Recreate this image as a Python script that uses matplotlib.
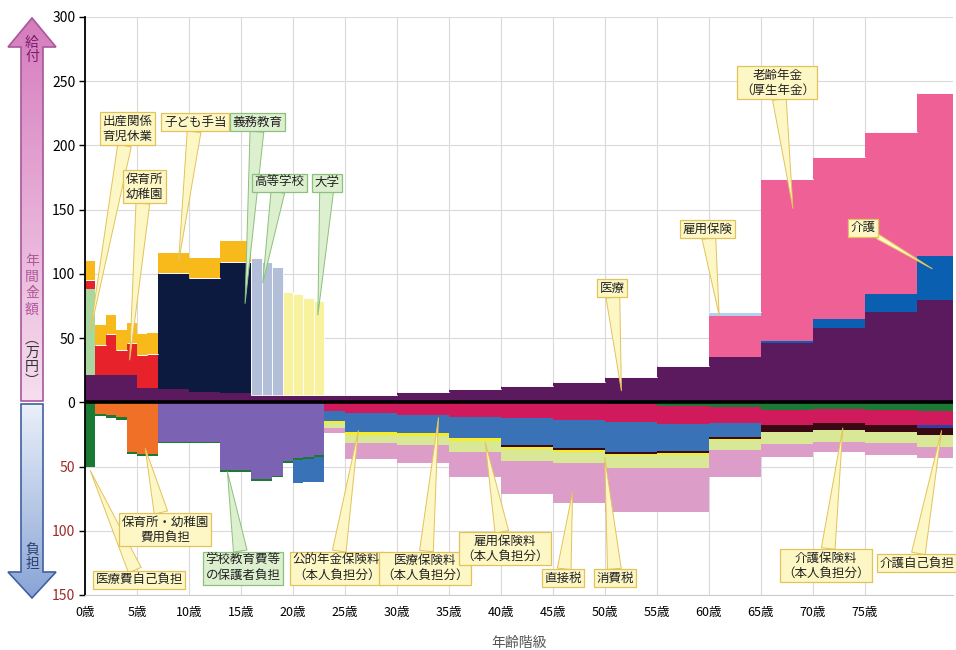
import numpy as np
import matplotlib
matplotlib.use("Agg")
import matplotlib.pyplot as plt
from matplotlib.patches import Polygon
from matplotlib.colors import LinearSegmentedColormap

plt.rcParams['font.family'] = ['Noto Sans CJK JP', 'DejaVu Sans']

# 年齢階級の区切り (歳)
edges = [0, 1, 2, 3, 4, 5, 6, 7, 10, 13, 16, 17, 18, 19, 20, 21, 22, 23, 25,
         30, 35, 40, 45, 50, 55, 60, 65, 70, 75, 80, 83.5]

# ==== 給付 (万円) ====
iryo     = [21, 21, 21, 21, 21, 11, 11, 10, 8, 7, 6, 6, 6, 6, 6, 6, 6, 5.5, 6, 8,
            10, 12.5, 15.8, 20, 28, 35, 46, 58.2, 70.4, 80]
kaigo    = [0]*26 + [1.8, 7, 14.3, 33.8]
nenkin   = [0]*25 + [32, 126, 126, 126, 127]
koyo     = [0]*25 + [3, 0, 0, 0, 0]
shussan  = [67] + [0]*29
hoikusho = [7, 23.4, 32, 20, 25, 26, 27] + [0]*23
gimu     = [0]*7 + [90.4, 88.5, 102] + [0]*20
koko     = [0]*10 + [106, 103, 99] + [0]*17
daigaku  = [0]*13 + [80, 78, 75, 73] + [0]*13
kodomo   = [15, 15.6, 14.8, 15, 15.5, 16, 16, 15.6, 15.5, 16.5] + [0]*20

# ==== 負担 (万円) ====
hoiku_futan = [0, 8.8, 10.1, 11.7, 38.7, 40, 40] + [0]*23
gakko_futan = [0]*7 + [30.5, 30.5, 53, 59.5, 60, 57, 45.5, 43.5, 42.3, 41.3] + [0]*13
iryohi      = [50, 1.9, 1.9, 2.3, 1.8, 2, 2] + [1.5]*10 + [0]*6 + [1.5, 2.5, 3.5, 6.2, 5.5, 6.2, 7]
iryo_hoken  = [0]*17 + [7, 8.5, 10, 11.7, 12.5, 14, 14.1, 14.3, 12.9, 11.8, 10.9, 11.8, 11]
nenkin_hoken = [0]*14 + [17.5, 18, 19.5, 7.8, 14.9, 14.2, 16.3, 21, 21.9, 23.4, 21.4, 10.9, 0, 0, 0, 0]
kaigo_jiko  = [0]*29 + [2.3]
kaigo_hoken = [0]*21 + [1.2, 1.5, 1.1, 1.2, 1.1, 5.4, 5.4, 5.4, 5.4]
koyo_hoken  = [0]*17 + [1.2, 2.3, 2.3, 2.4, 1.5, 1.6, 1.2, 1.6, 0.8, 0, 0, 0, 0]
shohizei    = [0]*17 + [4.3, 6.3, 7, 8.6, 9.3, 8.5, 10.1, 10, 8.2, 9.3, 9.4, 8.6, 9.3]
chokusetsu  = [0]*17 + [3.9, 12.4, 14, 19.5, 25.8, 31.2, 33.6, 34, 21.1, 10.2, 7.8, 9.3, 8.6]

pos_series = [
    (iryo, "#5b1a5e"), (kaigo, "#0a5fb0"), (nenkin, "#ef6097"), (koyo, "#b4d0f0"),
    (shussan, "#a8d8a0"), (hoikusho, "#e8222a"), (gimu, "#0b1a3e"),
    (koko, "#b3bfd9"), (daigaku, "#f8f19e"), (kodomo, "#f8b91a"),
]
neg_series = [
    (hoiku_futan, "#f07028"), (gakko_futan, "#7b62b2"), (iryohi, "#1a7a35"),
    (iryo_hoken, "#d11a5c"), (nenkin_hoken, "#3a72b8"), (kaigo_jiko, "#3040a0"),
    (kaigo_hoken, "#3a0812"), (koyo_hoken, "#f6ee22"), (shohizei, "#d9e896"),
    (chokusetsu, "#dc9dc9"),
]

fig = plt.figure(figsize=(9.56, 6.5), dpi=100)

# 左側の矢印 (ピクセル座標)
axb = fig.add_axes([0, 0, 1, 1])
axb.axis("off")


def grad_arrow(pts, c_top, c_bot, ec):
    poly = Polygon(pts, closed=True, fc="none", ec=ec, lw=1.2, zorder=3)
    axb.add_patch(poly)
    xs = [p[0] for p in pts]
    ys = [p[1] for p in pts]
    g = np.linspace(0, 1, 256).reshape(-1, 1)
    cm = LinearSegmentedColormap.from_list("g", [c_top, c_bot])
    im = axb.imshow(g, cmap=cm, extent=[min(xs), max(xs), max(ys), min(ys)],
                    aspect="auto", zorder=2)
    im.set_clip_path(poly)


grad_arrow([(21, 401), (21, 47), (8, 47), (32, 18), (56, 47), (43, 47), (43, 401)],
           "#d67cbd", "#f6deef", "#a6579a")
grad_arrow([(21, 404), (21, 572), (8, 572), (32, 598), (56, 572), (43, 572), (43, 404)],
           "#eaf0f9", "#88a4d6", "#41609f")
axb.set_xlim(0, 956)
axb.set_ylim(650, 0)

axb.text(32, 50, "給\n付", ha="center", va="center", fontsize=10,
         color="#7a1f6c", linespacing=1.05, zorder=4)
axb.text(32, 285, "年\n間\n金\n額", ha="center", va="center", fontsize=10,
         color="#b0589c", linespacing=1.2, zorder=4)
axb.text(32, 360, "︵\n万\n円\n︶", ha="center", va="center", fontsize=10,
         color="#333333", linespacing=1.0, zorder=4)
axb.text(32, 557, "負\n担", ha="center", va="center", fontsize=10,
         color="#2e3f70", linespacing=1.05, zorder=4)

# メインのグラフ
ax = fig.add_axes([85/956, 1 - 595/650, 868/956, 578/650])
ax.patch.set_alpha(0)

lefts = edges[:-1]
widths = np.diff(edges)

bottom = np.zeros(len(lefts))
for vals, col in pos_series:
    v = np.array(vals, dtype=float)
    ec = "white" if vals is koko or vals is daigaku else "none"
    ax.bar(lefts, v, width=widths, bottom=bottom, align="edge", color=col,
           edgecolor=ec, linewidth=0.6 if ec == "white" else 0, zorder=2)
    bottom += v

bottom = np.zeros(len(lefts))
for vals, col in neg_series:
    v = np.array(vals, dtype=float)
    ax.bar(lefts, -v, width=widths, bottom=-bottom, align="edge", color=col,
           linewidth=0, zorder=2)
    bottom += v

ax.axhline(0, color="black", lw=2.6, zorder=3)

ax.set_xlim(0, 83.5)
ax.set_ylim(-150, 300)
ax.set_xticks(range(0, 80, 5))
ax.set_xticklabels([f"{a}歳" for a in range(0, 80, 5)], fontsize=9)
ax.set_yticks(range(-150, 301, 50))
ax.set_yticklabels([str(abs(t)) for t in range(-150, 301, 50)], fontsize=10)
for lab, t in zip(ax.get_yticklabels(), range(-150, 301, 50)):
    if t < 0:
        lab.set_color("#9e2a2a")
ax.tick_params(axis="x", length=0, pad=8)
ax.tick_params(axis="y", length=4, width=1, pad=3)
ax.grid(True, color="#dadada", lw=0.8, zorder=0)
for s in ["top", "right"]:
    ax.spines[s].set_visible(False)
ax.spines["bottom"].set_color("#cccccc")
ax.spines["left"].set_linewidth(1.3)
ax.set_xlabel("年齢階級", fontsize=10, color="#555555", labelpad=12)

# 吹き出し
yel = dict(fc="#fdf7c6", ec="#e2c35a")
grn = dict(fc="#dcefcf", ec="#8cc07c")
callouts = [
    ("出産関係\n育児休業", (4.1, 213), (0.5, 55), yel, 1.1),
    ("保育所\n幼稚園", (5.7, 168), (4.3, 33), yel, 1.1),
    ("子ども手当", (10.6, 218), (9.0, 109), yel, 1.1),
    ("義務教育", (16.6, 218), (15.4, 77), grn, 1.1),
    ("高等学校", (18.7, 171), (17.1, 93), grn, 1.1),
    ("大学", (23.3, 171), (22.4, 68), grn, 1.1),
    ("医療", (50.7, 89), (51.6, 9), yel, 1.1),
    ("雇用保険", (59.9, 135), (61.0, 68), yel, 1.1),
    ("老齢年金\n（厚生年金）", (66.6, 249), (68.1, 151), yel, 1.1),
    ("介護", (74.8, 136), (81.5, 104), yel, 0.4),
    ("医療費自己負担", (5.2, -138), (0.5, -53), yel, 1.1),
    ("保育所・幼稚園\n費用負担", (7.7, -99), (5.8, -36), yel, 1.1),
    ("学校教育費等\nの保護者負担", (15.2, -129), (13.7, -54), grn, 1.1),
    ("公的年金保険料\n（本人負担分）", (24.2, -129), (26.3, -22), yel, 1.1),
    ("医療保険料\n（本人負担分）", (32.7, -129), (34.0, -12), yel, 1.1),
    ("雇用保険料\n（本人負担分）", (40.4, -114), (38.5, -31), yel, 1.1),
    ("直接税", (46.0, -137), (46.9, -70), yel, 1.1),
    ("消費税", (51.0, -137), (50.0, -43), yel, 1.1),
    ("介護保険料\n（本人負担分）", (71.3, -127), (72.9, -20), yel, 1.1),
    ("介護自己負担", (80.0, -125), (82.4, -22), yel, 1.1),
]
for text, xytext, xy, st, tw in callouts:
    ax.annotate(text, xy=xy, xytext=xytext, ha="center", va="center",
                fontsize=9, color="#222222", linespacing=1.2, zorder=6,
                annotation_clip=False,
                bbox=dict(boxstyle="square,pad=0.2", fc=st["fc"], ec=st["ec"], lw=0.9),
                arrowprops=dict(arrowstyle=f"wedge,tail_width={tw},shrink_factor=0.5",
                                fc=st["fc"], ec=st["ec"], lw=0.7,
                                shrinkA=0, shrinkB=0))

fig.savefig("out.png", dpi=100)
